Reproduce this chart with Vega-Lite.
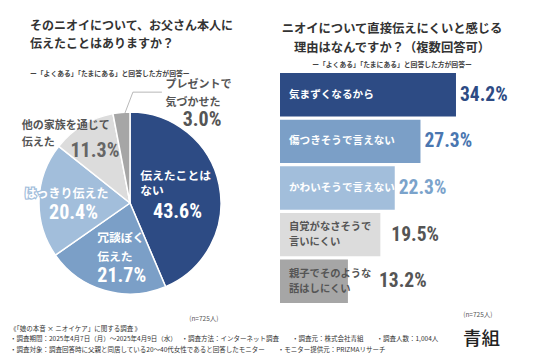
{
  "$schema": "https://vega.github.io/schema/vega-lite/v6.json",
  "background": "white",
  "padding": {"left": 0, "top": 19, "right": 0, "bottom": 0},
  "bounds": "flush",
  "spacing": 20,
  "config": {
    "view": {"stroke": null},
    "font": "Noto Sans CJK JP",
    "axis": {"grid": false}
  },
  "title": {
    "text": [
      "《「娘の本音 × ニオイケア」に関する調査 》",
      "・調査期間：2025年4月7日（月）～2025年4月9日（水）　 ・調査方法：インターネット調査　　・調査元：株式会社青組　　・調査人数：1,004人",
      "・調査対象：調査回答時に父親と同居している20～40代女性であると回答したモニター　　・モニター提供元：PRIZMAリサーチ"
    ],
    "orient": "bottom",
    "anchor": "start",
    "frame": "group",
    "dx": 10,
    "offset": -22,
    "fontSize": 6.5,
    "fontWeight": "normal",
    "color": "#333",
    "lineHeight": 10.8
  },
  "hconcat": [
    {
      "width": 260,
      "height": 260,
      "title": {
        "text": ["そのニオイについて、お父さん本人に", "伝えたことはありますか？"],
        "subtitle": "ー「よくある」「たまにある」と回答した方が回答ー",
        "anchor": "start",
        "frame": "group",
        "dx": 30,
        "fontSize": 12,
        "fontWeight": "bold",
        "color": "#333",
        "lineHeight": 18.5,
        "subtitleFontSize": 6.8,
        "subtitleFontWeight": "bold",
        "subtitleColor": "#444",
        "subtitlePadding": 20,
        "offset": -6
      },
      "data": {
        "values": [
          {"answer": "伝えたことはない", "label": "伝えたことは\nない", "value": 43.6, "order": 1},
          {"answer": "冗談ぽく伝えた", "label": "冗談ぽく\n伝えた", "value": 21.7, "order": 2},
          {"answer": "はっきり伝えた", "label": "はっきり伝えた", "value": 20.4, "order": 3},
          {"answer": "他の家族を通じて伝えた", "label": "他の家族を通じて\n伝えた", "value": 11.3, "order": 4},
          {"answer": "プレゼントで気づかせた", "label": "プレゼントで\n気づかせた", "value": 3.0, "order": 5}
        ]
      },
      "transform": [
        {"stack": "value", "groupby": [], "sort": [{"field": "order", "order": "ascending"}], "as": ["v0", "v1"]},
        {"calculate": "(datum.v0 + datum.v1) / 2", "as": "mid"},
        {"calculate": "format(datum.value, '.1f') + '%'", "as": "pct"}
      ],
      "layer": [
        {
          "mark": {"type": "arc", "outerRadius": 91, "stroke": "white", "strokeWidth": 1.5},
          "encoding": {
            "theta": {"field": "v0", "type": "quantitative", "scale": {"domain": [0, 100], "zero": true, "nice": false}},
            "theta2": {"field": "v1"},
            "color": {
              "field": "answer", "type": "nominal", "legend": null,
              "scale": {
                "domain": ["伝えたことはない", "冗談ぽく伝えた", "はっきり伝えた", "他の家族を通じて伝えた", "プレゼントで気づかせた"],
                "range": ["#2d4b84", "#7b9fc7", "#a2bedb", "#dcdcdc", "#a6a6a6"]
              }
            },
            "x": {
              "datum": 0, "type": "quantitative",
              "scale": {"domain": [-130, 130], "nice": false},
              "axis": {"labels": false, "ticks": false, "domain": false, "title": "(n=725人)", "titleX": 218, "titleY": -15, "titleAlign": "right", "titleBaseline": "middle", "titleFontSize": 6.5, "titleFontWeight": "normal", "titleColor": "#555"}
            }
          }
        },
        {
          "transform": [
            {"filter": "datum.order === 5"},
            {"calculate": "sin((datum.mid / 100 + 0.006) * 2 * PI) * 90", "as": "lx1"},
            {"calculate": "cos((datum.mid / 100 + 0.006) * 2 * PI) * 90", "as": "ly1"},
            {"calculate": "datum.lx1 + 8", "as": "lx2"},
            {"calculate": "datum.ly1 + 21", "as": "ly2"}
          ],
          "mark": {"type": "rule", "color": "#b0b0b0", "strokeWidth": 0.9},
          "encoding": {
            "x": {"field": "lx1", "type": "quantitative", "axis": {"labels": false, "ticks": false, "domain": false, "title": "(n=725人)", "titleX": 218, "titleY": -15, "titleAlign": "right", "titleBaseline": "middle", "titleFontSize": 6.5, "titleFontWeight": "normal", "titleColor": "#555"}},
            "y": {"field": "ly1", "type": "quantitative", "scale": {"domain": [-130, 130], "nice": false}, "axis": null},
            "x2": {"field": "lx2"},
            "y2": {"field": "ly2"}
          }
        },
        {
          "transform": [
            {"filter": "datum.order === 5"},
            {"calculate": "sin((datum.mid / 100 + 0.006) * 2 * PI) * 90 + 8", "as": "hx1"},
            {"calculate": "cos((datum.mid / 100 + 0.006) * 2 * PI) * 90 + 21", "as": "hy"},
            {"calculate": "datum.hx1 + 29", "as": "hx2"}
          ],
          "mark": {"type": "rule", "color": "#b0b0b0", "strokeWidth": 0.9},
          "encoding": {
            "x": {"field": "hx1", "type": "quantitative", "axis": {"labels": false, "ticks": false, "domain": false, "title": "(n=725人)", "titleX": 218, "titleY": -15, "titleAlign": "right", "titleBaseline": "middle", "titleFontSize": 6.5, "titleFontWeight": "normal", "titleColor": "#555"}},
            "y": {"field": "hy", "type": "quantitative", "axis": null},
            "x2": {"field": "hx2"}
          }
        },
        {
          "transform": [{"filter": "datum.order === 1"}],
          "mark": {"type": "text", "radius": 40, "dx": -29, "dy": -19, "align": "left", "baseline": "middle", "fontSize": 11.8, "fontWeight": "bold", "lineHeight": 15, "lineBreak": "\n", "color": "white"},
          "encoding": {"theta": {"field": "mid", "type": "quantitative"}, "text": {"field": "label"}}
        },
        {
          "transform": [{"filter": "datum.order === 1"}],
          "mark": {"type": "text", "radius": 50, "dx": -1.5, "dy": 19, "align": "center", "baseline": "middle", "fontSize": 20, "fontWeight": "bold", "font": "Roboto Condensed, Roboto", "color": "white"},
          "encoding": {"theta": {"field": "mid", "type": "quantitative"}, "text": {"field": "pct"}}
        },
        {
          "transform": [{"filter": "datum.order === 2"}],
          "mark": {"type": "text", "radius": 50, "dx": -19, "dy": -13, "align": "left", "baseline": "middle", "fontSize": 11.8, "fontWeight": "bold", "lineHeight": 19, "lineBreak": "\n", "color": "white"},
          "encoding": {"theta": {"field": "mid", "type": "quantitative"}, "text": {"field": "label"}}
        },
        {
          "transform": [{"filter": "datum.order === 2"}],
          "mark": {"type": "text", "radius": 75, "dx": -12, "dy": 1, "align": "left", "baseline": "middle", "fontSize": 20, "fontWeight": "bold", "font": "Roboto Condensed, Roboto", "color": "white"},
          "encoding": {"theta": {"field": "mid", "type": "quantitative"}, "text": {"field": "pct"}}
        },
        {
          "transform": [{"filter": "datum.order === 3"}],
          "mark": {"type": "text", "radius": 62, "dx": -1.5, "dy": -7, "align": "center", "baseline": "middle", "fontSize": 12, "fontWeight": "bold", "color": "#a2bedb", "stroke": "#a2bedb", "strokeWidth": 2.5},
          "encoding": {"theta": {"field": "mid", "type": "quantitative"}, "text": {"field": "label"}}
        },
        {
          "transform": [{"filter": "datum.order === 3"}],
          "mark": {"type": "text", "radius": 62, "dx": -1.5, "dy": -7, "align": "center", "baseline": "middle", "fontSize": 12, "fontWeight": "bold", "color": "white"},
          "encoding": {"theta": {"field": "mid", "type": "quantitative"}, "text": {"field": "label"}}
        },
        {
          "transform": [{"filter": "datum.order === 3"}],
          "mark": {"type": "text", "radius": 56, "dx": -0.5, "dy": 12, "align": "center", "baseline": "middle", "fontSize": 20, "fontWeight": "bold", "font": "Roboto Condensed, Roboto", "color": "white"},
          "encoding": {"theta": {"field": "mid", "type": "quantitative"}, "text": {"field": "pct"}}
        },
        {
          "transform": [{"filter": "datum.order === 4"}],
          "mark": {"type": "text", "radius": 80, "dx": -67, "dy": -8.5, "align": "left", "baseline": "middle", "fontSize": 11, "fontWeight": "bold", "lineHeight": 17, "lineBreak": "\n", "color": "#555"},
          "encoding": {"theta": {"field": "mid", "type": "quantitative"}, "text": {"field": "label"}}
        },
        {
          "transform": [{"filter": "datum.order === 4"}],
          "mark": {"type": "text", "radius": 61, "dx": -3.5, "dy": 0, "align": "center", "baseline": "middle", "fontSize": 20, "fontWeight": "bold", "font": "Roboto Condensed, Roboto", "color": "#666"},
          "encoding": {"theta": {"field": "mid", "type": "quantitative"}, "text": {"field": "pct"}}
        },
        {
          "transform": [{"filter": "datum.order === 5"}],
          "mark": {"type": "text", "radius": 111, "dx": 46, "dy": -7, "align": "left", "baseline": "middle", "fontSize": 11, "fontWeight": "bold", "lineHeight": 18, "lineBreak": "\n", "color": "#555"},
          "encoding": {"theta": {"field": "mid", "type": "quantitative"}, "text": {"field": "label"}}
        },
        {
          "transform": [{"filter": "datum.order === 5"}],
          "mark": {"type": "text", "radius": 84, "dx": 80, "dy": 1, "align": "center", "baseline": "middle", "fontSize": 20, "fontWeight": "bold", "font": "Roboto Condensed, Roboto", "color": "#555"},
          "encoding": {"theta": {"field": "mid", "type": "quantitative"}, "text": {"field": "pct"}}
        }
      ]
    },
    {
      "width": 212,
      "height": 230,
      "title": {
        "text": ["ニオイについて直接伝えにくいと感じる", "理由はなんですか？（複数回答可）"],
        "subtitle": "ー「よくある」「たまにある」と回答した方が回答ー",
        "anchor": "middle",
        "frame": "group",
        "dx": 6,
        "fontSize": 12.3,
        "fontWeight": "bold",
        "color": "#333",
        "lineHeight": 19,
        "subtitleFontSize": 6.8,
        "subtitleFontWeight": "bold",
        "subtitleColor": "#444",
        "subtitlePadding": 8,
        "offset": 4
      },
      "data": {
        "values": [
          {"reason": "気まずくなるから", "label": "気まずくなるから", "value": 34.2},
          {"reason": "傷つきそうで言えない", "label": "傷つきそうで言えない", "value": 27.3},
          {"reason": "かわいそうで言えない", "label": "かわいそうで言えない", "value": 22.3},
          {"reason": "自覚がなさそうで言いにくい", "label": "自覚がなさそうで\n言いにくい", "value": 19.5},
          {"reason": "親子でそのような話はしにくい", "label": "親子でそのような\n話はしにくい", "value": 13.2}
        ]
      },
      "transform": [{"calculate": "format(datum.value, '.1f') + '%'", "as": "pct"}],
      "encoding": {
        "y": {
          "field": "reason", "type": "nominal", "sort": null,
          "scale": {"paddingInner": 0.07, "paddingOuter": 0},
          "axis": {"orient": "right", "labels": false, "ticks": false, "domain": false, "title": "青組", "titleAngle": 0, "titleFontSize": 18.5, "titleFontWeight": 500, "titleColor": "#222", "titleX": -11, "titleY": 265, "titleAlign": "center", "titleBaseline": "middle"}
        }
      },
      "layer": [
        {
          "mark": {"type": "bar"},
          "encoding": {
            "x": {
              "field": "value", "type": "quantitative",
              "scale": {"domain": [0, 41.2], "nice": false},
              "axis": {"labels": false, "ticks": false, "domain": false, "title": "(n=725人)", "titleAnchor": "end", "titlePadding": 8, "titleFontSize": 6.5, "titleFontWeight": "normal", "titleColor": "#555"}
            },
            "color": {
              "field": "reason", "type": "nominal", "legend": null,
              "scale": {
                "domain": ["気まずくなるから", "傷つきそうで言えない", "かわいそうで言えない", "自覚がなさそうで言いにくい", "親子でそのような話はしにくい"],
                "range": ["#2d4b84", "#4a76b0", "#7ba3cb", "#e0e0e0", "#e0e0e0"]
              }
            }
          }
        },
        {
          "transform": [{"filter": "datum.value > 20"}],
          "mark": {"type": "text", "align": "left", "baseline": "middle", "dx": 9, "fontSize": 10.6, "fontWeight": "bold", "color": "white"},
          "encoding": {
            "x": {"datum": 0, "type": "quantitative"},
            "text": {"field": "label"}
          }
        },
        {
          "transform": [{"filter": "datum.value <= 20"}],
          "mark": {"type": "text", "align": "left", "baseline": "middle", "dx": 9, "dy": -7.5, "fontSize": 10.3, "fontWeight": "bold", "lineHeight": 15, "lineBreak": "\n", "color": "#555"},
          "encoding": {
            "x": {"datum": 0, "type": "quantitative"},
            "text": {"field": "label"}
          }
        },
        {
          "transform": [{"filter": "datum.value > 20"}],
          "mark": {"type": "text", "align": "left", "baseline": "middle", "dx": 4, "fontSize": 19.5, "fontWeight": "bold", "font": "Roboto Condensed, Roboto"},
          "encoding": {
            "x": {"field": "value", "type": "quantitative"},
            "text": {"field": "pct"},
            "color": {"condition": [{"test": "datum.value > 30", "value": "#2d4b84"}, {"test": "datum.value > 25", "value": "#4a76b0"}], "value": "#7ba3cb"}
          }
        },
        {
          "transform": [{"filter": "datum.value <= 20 && datum.value > 15"}],
          "mark": {"type": "text", "align": "left", "baseline": "middle", "dx": 11, "fontSize": 19.5, "fontWeight": "bold", "font": "Roboto Condensed, Roboto", "color": "#555"},
          "encoding": {
            "x": {"field": "value", "type": "quantitative"},
            "text": {"field": "pct"}
          }
        },
        {
          "transform": [{"filter": "datum.value <= 15"}],
          "mark": {"type": "text", "align": "left", "baseline": "middle", "dx": 31, "fontSize": 19.5, "fontWeight": "bold", "font": "Roboto Condensed, Roboto", "color": "#555"},
          "encoding": {
            "x": {"field": "value", "type": "quantitative"},
            "text": {"field": "pct"}
          }
        }
      ]
    }
  ]
}
